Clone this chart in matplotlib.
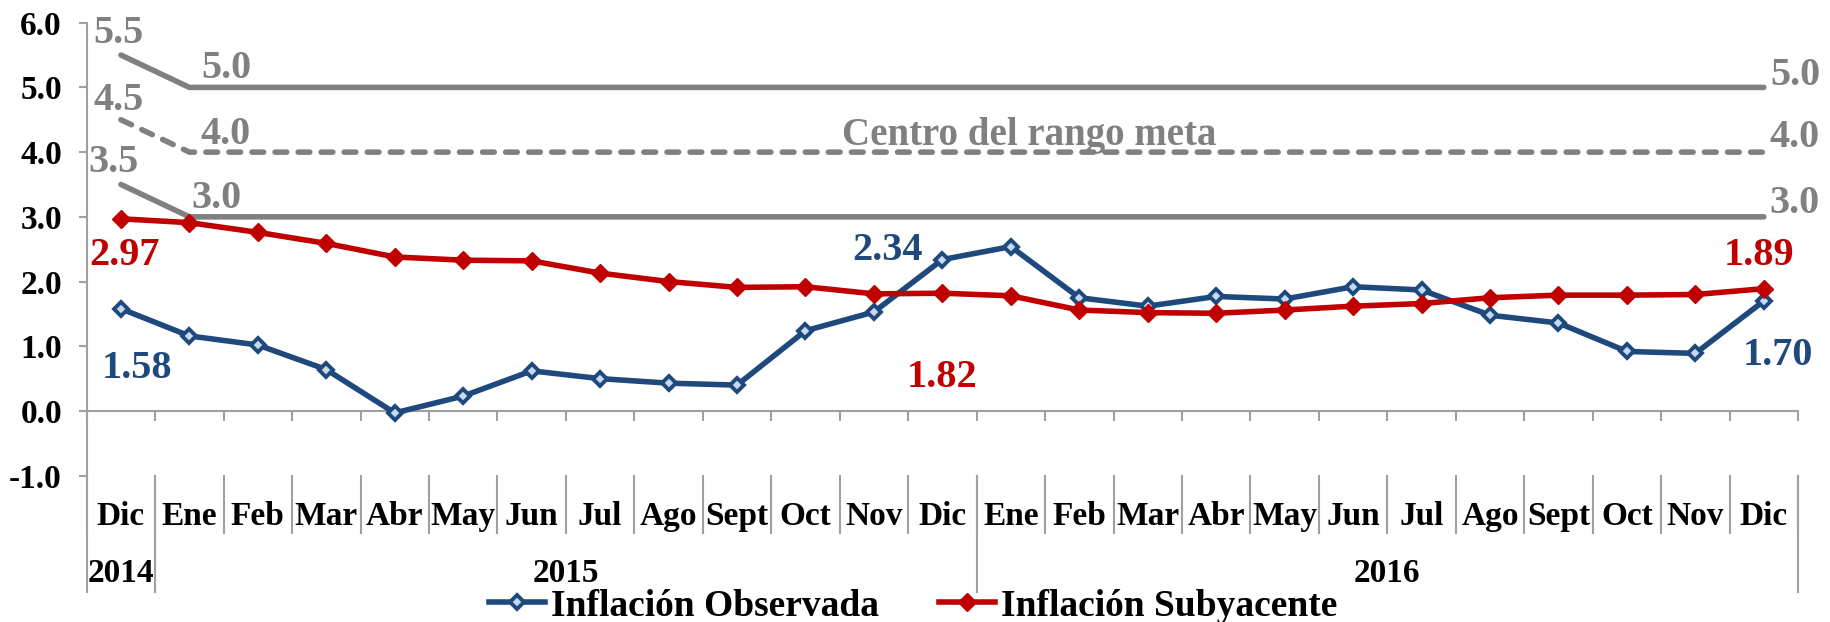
import matplotlib
matplotlib.use("Agg")
import matplotlib.pyplot as plt

plt.rcParams['font.family'] = ['Liberation Serif', 'DejaVu Serif']
plt.rcParams['font.weight'] = 'bold'

# data
meses = ['Dic', 'Ene', 'Feb', 'Mar', 'Abr', 'May', 'Jun', 'Jul', 'Ago', 'Sept', 'Oct', 'Nov', 'Dic',
         'Ene', 'Feb', 'Mar', 'Abr', 'May', 'Jun', 'Jul', 'Ago', 'Sept', 'Oct', 'Nov', 'Dic']
anios = ['2014', '2015', '2016']
anio_desde = [0, 1, 13]
anio_hasta = [0, 12, 24]

observada = [1.58, 1.16, 1.02, 0.64, -0.03, 0.23, 0.62, 0.50, 0.43, 0.40, 1.24, 1.53, 2.34,
             2.54, 1.75, 1.62, 1.77, 1.73, 1.92, 1.87, 1.48, 1.36, 0.92, 0.89, 1.70]
subyacente = [2.97, 2.91, 2.76, 2.59, 2.38, 2.33, 2.32, 2.13, 2.00, 1.91, 1.92, 1.81, 1.82,
              1.78, 1.56, 1.52, 1.51, 1.56, 1.62, 1.66, 1.75, 1.79, 1.79, 1.80, 1.89]
meta_sup = [5.5] + [5.0] * 24
meta_centro = [4.5] + [4.0] * 24
meta_inf = [3.5] + [3.0] * 24

azul = '#1f497d'
rojo = '#c00000'
gris = '#808080'
eje = '#a0a0a0'

fig = plt.figure(figsize=(18.31, 6.22), dpi=100)
ax = fig.add_axes([0.04735, 0.23521, 0.93465, 0.7283])

x = list(range(len(meses)))

# target band
ax.plot(x, meta_sup, color=gris, lw=4.0, solid_capstyle='round', zorder=2)
ax.plot(x, meta_inf, color=gris, lw=4.0, solid_capstyle='round', zorder=2)
ax.plot(x, meta_centro, color=gris, lw=4.0, linestyle=(0, (2.1, 2.05)),
        dash_capstyle='round', zorder=2)

# series
l_obs, = ax.plot(x, observada, color=azul, lw=4.0, marker='D', markersize=7.5,
                 markerfacecolor='#c6d9f1', markeredgecolor=azul, markeredgewidth=2.8,
                 zorder=3, label='Inflación Observada')
l_sub, = ax.plot(x, subyacente, color=rojo, lw=4.0, marker='D', markersize=9,
                 markerfacecolor=rojo, markeredgecolor=rojo, markeredgewidth=1,
                 zorder=4, label='Inflación Subyacente')

ax.set_xlim(-0.5, len(meses) - 0.5)
ax.set_ylim(-1, 6)

# axes styling
for s in ['top', 'right']:
    ax.spines[s].set_visible(False)
ax.spines['left'].set_color(eje)
ax.spines['left'].set_linewidth(1.5)
ax.spines['bottom'].set_position(('data', 0))
ax.spines['bottom'].set_color(eje)
ax.spines['bottom'].set_linewidth(1.5)

ax.set_yticks([-1, 0, 1, 2, 3, 4, 5, 6])
ax.set_yticklabels(['%.1f' % v for v in [-1, 0, 1, 2, 3, 4, 5, 6]])
ax.tick_params(axis='y', direction='out', length=5.8, width=1.5, color=eje,
               labelsize=24, pad=12)
ax.set_xticks([i - 0.5 for i in range(len(meses) + 1)])
ax.set_xticklabels([])
ax.tick_params(axis='x', direction='out', length=7, width=1.5, color=eje)

# multi-level category labels
sep_mes = -1.89
sep_anio = -2.80
for i, m in enumerate(meses):
    ax.text(i, -1.762, m, ha='center', va='baseline', fontsize=24, clip_on=False)
for i in range(len(meses) + 1):
    ax.plot([i - 0.5, i - 0.5], [-1, sep_mes], color=eje, lw=1.5, clip_on=False)
for a, d, h in zip(anios, anio_desde, anio_hasta):
    ax.text((d + h) / 2, -2.64, a, ha='center', va='baseline', fontsize=24, clip_on=False)
    ax.plot([d - 0.5, d - 0.5], [-1, sep_anio], color=eje, lw=1.5, clip_on=False)
ax.plot([len(meses) - 0.5] * 2, [-1, sep_anio], color=eje, lw=1.5, clip_on=False)


def etiqueta(txt, xi, yi, dx, dy, color, size=29, ha='center'):
    ax.annotate(txt, (xi, yi), xytext=(dx, dy), textcoords='offset pixels',
                ha=ha, va='baseline', color=color, fontsize=size, annotation_clip=False)


# target labels
etiqueta('%.1f' % meta_sup[0], 0, meta_sup[0], -2, 12, gris)
etiqueta('%.1f' % meta_centro[0], 0, meta_centro[0], -2, 10, gris)
etiqueta('%.1f' % meta_inf[0], 0, meta_inf[0], -7, 12, gris)
etiqueta('%.1f' % meta_sup[1], 1, meta_sup[1], 37, 9, gris)
etiqueta('%.1f' % meta_centro[1], 1, meta_centro[1], 36, 8, gris)
etiqueta('%.1f' % meta_inf[1], 1, meta_inf[1], 27, 9, gris)
n = len(meses) - 1
etiqueta('%.1f' % meta_sup[n], n, meta_sup[n], 6, 2, gris, ha='left')
etiqueta('%.1f' % meta_centro[n], n, meta_centro[n], 6, 5, gris, ha='left')
etiqueta('%.1f' % meta_inf[n], n, meta_inf[n], 6, 4, gris, ha='left')
ax.text(16.0, 4.11, 'Centro del rango meta', ha='right', va='baseline',
        color=gris, fontsize=28)

# data labels
etiqueta('%.2f' % subyacente[0], 0, subyacente[0], 4, -46, rojo)
etiqueta('%.2f' % observada[0], 0, observada[0], 16, -69, azul)
etiqueta('%.2f' % observada[12], 12, observada[12], -55, 0, azul)
etiqueta('%.2f' % subyacente[12], 12, subyacente[12], 0, -94, rojo)
etiqueta('%.2f' % subyacente[n], n, subyacente[n], -5, 24, rojo)
etiqueta('%.2f' % observada[n], n, observada[n], 14, -64, azul)

fig.legend(handles=[l_obs, l_sub], loc='center', bbox_to_anchor=(0.4987, 0.0257),
           ncol=2, frameon=False, fontsize=27, handlelength=1.5, handletextpad=0.15,
           columnspacing=1.6, borderpad=0, borderaxespad=0)

fig.savefig('out.png', dpi=100)
